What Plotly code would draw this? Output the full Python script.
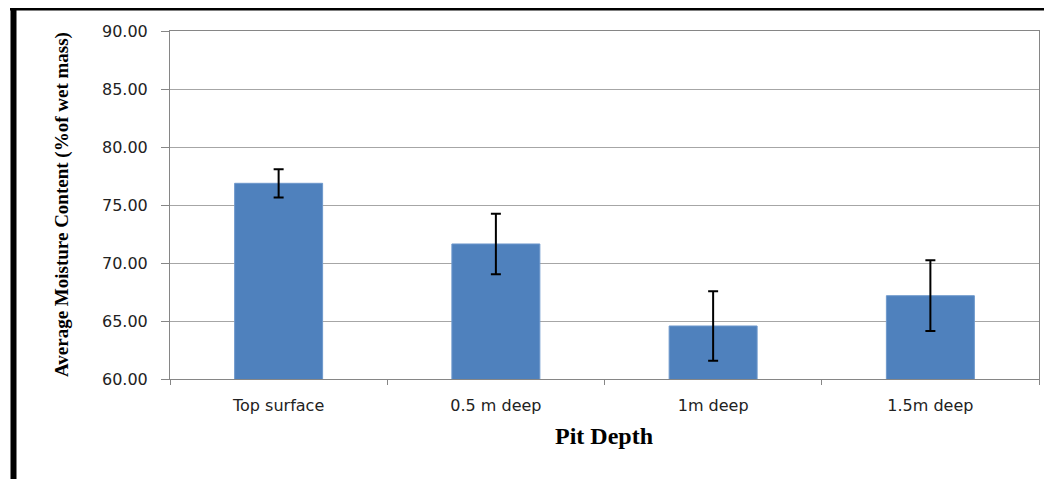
import plotly.graph_objects as go

categories = ["Top surface", "0.5 m deep", "1m deep", "1.5m deep"]
moisture = [76.87, 71.64, 64.57, 67.18]
moisture_err = [1.22, 2.6, 3.0, 3.05]
y_ticks = [60, 65, 70, 75, 80, 85, 90]
y_tick_labels = ["60.00", "65.00", "70.00", "75.00", "80.00", "85.00", "90.00"]

# the page body adds an 8px offset; screen coords = figure coords + 8
OFF = 8
W, H = 1052 - OFF, 479 - OFF
ML, MR, MT, MB = 170 - OFF, 13, 31 - OFF, 100
PW, PH = W - ML - MR, H - MT - MB

def px(x):
    # x in screen pixels -> paper
    return (x - OFF - ML) / PW

def py(y):
    return 1 - (y - OFF - MT) / PH

fig = go.Figure()
fig.add_trace(go.Bar(
    x=categories, y=moisture,
    marker=dict(color="#4F81BD", line=dict(color="#6E98CC", width=1)),
    width=0.405,
    error_y=dict(type="data", array=moisture_err, visible=True,
                 color="#000000", thickness=2, width=5),
))

fig.update_layout(
    width=W, height=H,
    margin=dict(l=ML, r=MR, t=MT, b=MB),
    paper_bgcolor="white", plot_bgcolor="white",
    showlegend=False,
    xaxis=dict(
        tickson="boundaries", ticks="outside", ticklen=5, tickcolor="#868686",
        showline=True, linecolor="#868686", linewidth=1, mirror=True,
        showgrid=False,
        tickfont=dict(family="DejaVu Sans", size=16, color="#222222"),
        ticklabelstandoff=12,
    ),
    yaxis=dict(
        range=[60, 90], tickvals=y_ticks, ticktext=y_tick_labels,
        ticks="outside", ticklen=8, tickcolor="#868686",
        showline=True, linecolor="#868686", linewidth=1, mirror=True,
        showgrid=True, gridcolor="#A6A6A6", gridwidth=1, zeroline=False,
        tickfont=dict(family="DejaVu Sans", size=16, color="#222222"),
        ticklabelstandoff=10,
    ),
    annotations=[
        dict(text="<b>Average Moisture Content (%of wet mass)</b>",
             xref="paper", yref="paper", x=px(62), y=py(205),
             textangle=-90, showarrow=False, xanchor="center", yanchor="middle",
             font=dict(family="Liberation Serif", size=19, color="#000000")),
        dict(text="<b>Pit Depth</b>",
             xref="paper", yref="paper", x=px(604), y=py(436),
             showarrow=False, xanchor="center", yanchor="middle",
             font=dict(family="Liberation Serif", size=24, color="#000000")),
    ],
    shapes=[
        dict(type="line", xref="paper", yref="paper",
             x0=px(13.5), x1=px(13.5), y0=py(8), y1=py(490),
             line=dict(color="#000000", width=6)),
        dict(type="line", xref="paper", yref="paper",
             x0=px(10), x1=px(1060), y0=py(9), y1=py(9),
             line=dict(color="#000000", width=3)),
    ],
)

fig.write_html("out.html")
